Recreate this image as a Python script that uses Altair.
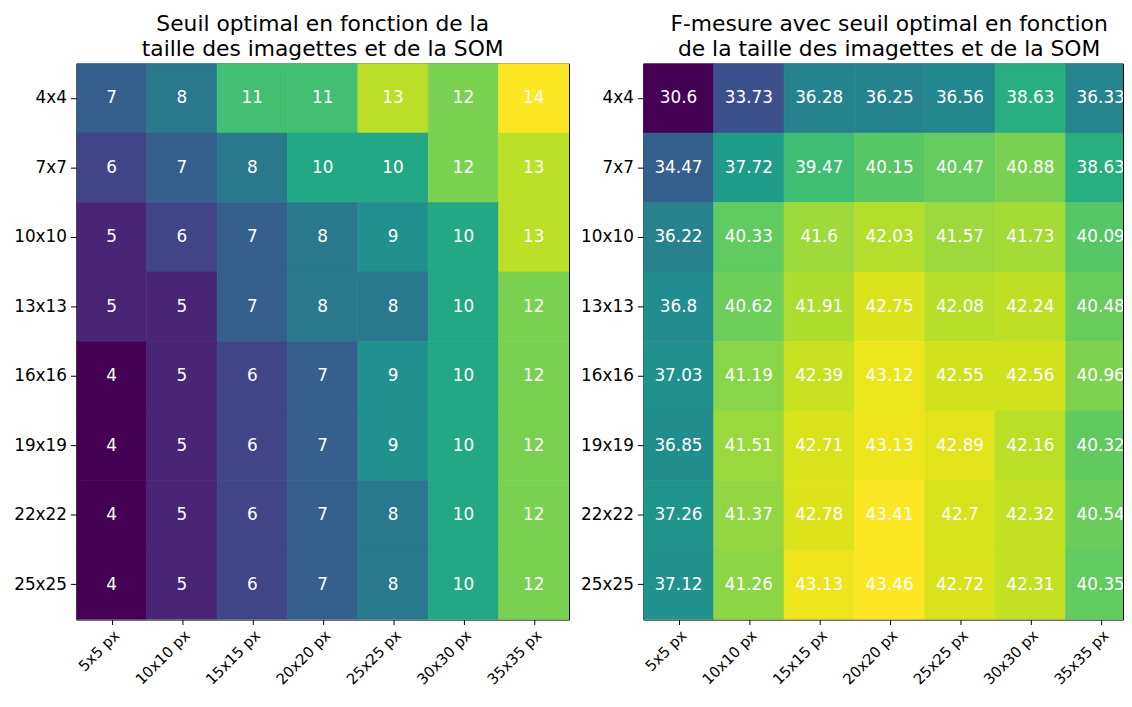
import altair as alt
import pandas as pd

rows = ["4x4", "7x7", "10x10", "13x13", "16x16", "19x19", "22x22", "25x25"]
cols = ["5x5 px", "10x10 px", "15x15 px", "20x20 px", "25x25 px", "30x30 px", "35x35 px"]

seuil = [
    [7, 8, 11, 11, 13, 12, 14],
    [6, 7, 8, 10, 10, 12, 13],
    [5, 6, 7, 8, 9, 10, 13],
    [5, 5, 7, 8, 8, 10, 12],
    [4, 5, 6, 7, 9, 10, 12],
    [4, 5, 6, 7, 9, 10, 12],
    [4, 5, 6, 7, 8, 10, 12],
    [4, 5, 6, 7, 8, 10, 12],
]

fmesure = [
    [30.6, 33.73, 36.28, 36.25, 36.56, 38.63, 36.33],
    [34.47, 37.72, 39.47, 40.15, 40.47, 40.88, 38.63],
    [36.22, 40.33, 41.6, 42.03, 41.57, 41.73, 40.09],
    [36.8, 40.62, 41.91, 42.75, 42.08, 42.24, 40.48],
    [37.03, 41.19, 42.39, 43.12, 42.55, 42.56, 40.96],
    [36.85, 41.51, 42.71, 43.13, 42.89, 42.16, 40.32],
    [37.26, 41.37, 42.78, 43.41, 42.7, 42.32, 40.54],
    [37.12, 41.26, 43.13, 43.46, 42.72, 42.31, 40.35],
]

title_left = ["Seuil optimal en fonction de la", "taille des imagettes et de la SOM"]
title_right = ["F-mesure avec seuil optimal en fonction", "de la taille des imagettes et de la SOM"]

FONT = "DejaVu Sans"
FULL_W = 497
PLOT_H = 561


def to_df(matrix):
    recs = []
    for i, r in enumerate(rows):
        for j, c in enumerate(cols):
            v = matrix[i][j]
            recs.append({
                "row": r, "col": c, "ci": j, "ci2": j + 1, "cc": j + 0.5,
                "value": v, "label": f"{v:g}",
            })
    return pd.DataFrame(recs)


def heatmap(matrix, title, width, title_dx=0):
    df = to_df(matrix)
    vmin = min(min(r) for r in matrix)
    vmax = max(max(r) for r in matrix)
    # visible part of the column axis (panel may be cut at the right edge)
    xmax = len(cols) * width / FULL_W
    label_expr = "[" + ",".join(f"'{c}'" for c in cols) + "][floor(datum.value)]"
    xscale = alt.Scale(domain=[0, xmax], zero=False, nice=False)
    xaxis = alt.Axis(
        values=[j + 0.5 for j in range(len(cols))],
        labelExpr=label_expr,
        labelAngle=-45,
        labelAlign="right",
        labelBaseline="top",
        labelFontSize=15,
        labelFont=FONT,
        labelColor="black",
        tickSize=5,
        tickColor="black",
        labelPadding=3,
        domain=False,
        grid=False,
        labelFlush=False,
        labelOverlap=False,
    )
    y = alt.Y(
        "row:O",
        sort=rows,
        title=None,
        scale=alt.Scale(paddingInner=0, paddingOuter=0),
        axis=alt.Axis(
            labelFontSize=17,
            labelFont=FONT,
            labelColor="black",
            tickSize=6,
            tickColor="black",
            labelPadding=4,
            domain=False,
            grid=False,
        ),
    )
    cscale = alt.Scale(scheme="viridis", domain=[vmin, vmax])
    base = alt.Chart(df)
    rect = base.mark_rect(clip=True, strokeWidth=0.6).encode(
        x=alt.X("ci:Q", scale=xscale, axis=xaxis, title=None),
        x2="ci2:Q",
        y=y,
        color=alt.Color("value:Q", scale=cscale, legend=None),
        stroke=alt.Stroke("value:Q", scale=cscale, legend=None),
    )
    text = base.mark_text(color="white", fontSize=17, font=FONT, clip=True).encode(
        x=alt.X("cc:Q", scale=xscale, axis=xaxis, title=None),
        y=alt.Y("row:O", sort=rows),
        text="label:N",
    )
    return (rect + text).properties(
        width=width,
        height=PLOT_H,
        title=alt.TitleParams(
            text=title,
            fontSize=22,
            font=FONT,
            fontWeight="normal",
            color="black",
            anchor="middle",
            lineHeight=25,
            offset=3,
            dx=title_dx,
        ),
    )


left = heatmap(seuil, title_left, FULL_W)
right = heatmap(fmesure, title_right, 484, title_dx=6)

chart = (
    alt.hconcat(left, right, spacing=10)
    .resolve_scale(color="independent", stroke="independent", x="independent")
    .properties(padding={"left": 5, "top": 1, "right": 0, "bottom": 0})
    .configure_view(stroke="black", strokeWidth=1)
)

chart.save("out.html", embed_options={"renderer": "svg", "actions": False})
